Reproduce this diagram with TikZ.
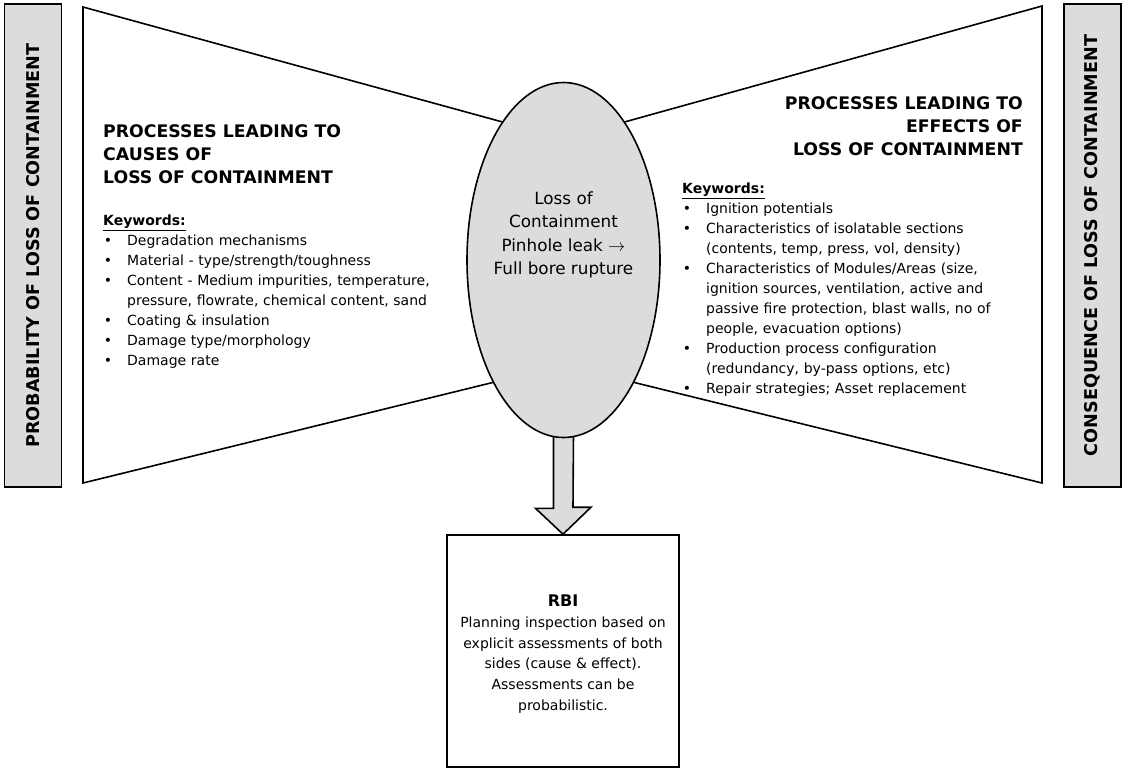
\documentclass[tikz,border=0pt]{standalone}
\usepackage{fontspec}
\setmainfont{DejaVu Sans}
\usepackage{enumitem}
\usetikzlibrary{shapes.geometric, positioning, calc, backgrounds}
\definecolor{shade}{RGB}{220,220,220}
\newenvironment{kwlist}{\begin{itemize}[leftmargin=24pt, labelsep=15pt, topsep=0pt, partopsep=0pt, itemsep=0pt, parsep=0pt]}{\end{itemize}}

\begin{document}
\begin{tikzpicture}[x=1pt, y=-1pt,
    font=\fontsize{14}{20}\selectfont,
    bar/.style={rectangle, draw, line width=1.6pt, fill=shade, minimum width=483pt, minimum height=57pt, inner sep=0pt, font=\fontsize{17.6}{20}\selectfont\bfseries},
    heading/.style={inner sep=0pt, font=\fontsize{17.3}{23}\selectfont\bfseries},
    keys/.style={inner sep=0pt, align=left},
    event/.style={ellipse, draw, line width=1.6pt, fill=shade, minimum width=193pt, minimum height=355pt, inner sep=0pt},
    eventtext/.style={inner sep=0pt, align=center, font=\fontsize{16.8}{23.3}\selectfont},
    result/.style={rectangle, draw, line width=1.6pt, minimum width=232pt, minimum height=232pt, text width=226pt, inner sep=3pt, align=center, font=\fontsize{14}{20.7}\selectfont},
    wing/.style={line width=1.6pt, line join=miter},
    bigarrow/.style={line width=1.6pt, fill=shade, line join=miter}
]
    \useasboundingbox (0,0) rectangle (1124,769);

    % Side bars
    \node[bar, rotate=90] (prob) at (33,245.5) {PROBABILITY OF LOSS OF CONTAINMENT};
    \node[bar, rotate=90] (cons) at (1092.5,245.5) {CONSEQUENCE OF LOSS OF CONTAINMENT};

    % Top event
    \node[event] (loc) at (563.5,260) {};
    \node[eventtext] (loctext) at ([yshift=25pt]loc.center) {Loss of\\Containment\\Pinhole leak $\rightarrow$\\Full bore rupture};

    % Wings
    \coordinate (ltop) at (83,7);
    \coordinate (lbot) at (83,483);
    \coordinate (rtop) at (1042,6);
    \coordinate (rbot) at (1042,483);
    \draw[wing] (loc.114) -- (ltop) -- (lbot) -- (loc.240);
    \draw[wing] (loc.66) -- (rtop) -- (rbot) -- (loc.300);

    % Causes
    \node[heading, anchor=north west, align=left] (causehead) at (103,124) {PROCESSES LEADING TO\\CAUSES OF\\LOSS OF CONTAINMENT};
    \node[keys, anchor=north west, text width=345pt] (causekeys) at (103,215) {\underline{\textbf{Keywords:}}
    \begin{kwlist}
        \item Degradation mechanisms
        \item Material - type/strength/toughness
        \item Content - Medium impurities, temperature, pressure, flowrate, chemical content, sand
        \item Coating \& insulation
        \item Damage type/morphology
        \item Damage rate
    \end{kwlist}};

    % Effects
    \node[heading, anchor=north east, align=right] (effecthead) at (1023,96) {PROCESSES LEADING TO\\EFFECTS OF\\LOSS OF CONTAINMENT};
    \node[keys, anchor=north west, text width=318pt] (effectkeys) at (682,183) {\underline{\textbf{Keywords:}}
    \begin{kwlist}
        \item Ignition potentials
        \item Characteristics of isolatable sections (contents, temp, press, vol, density)
        \item Characteristics of Modules/Areas (size, ignition sources, ventilation, active and passive fire protection, blast walls, no of people, evacuation options)
        \item Production process configuration (redundancy, by-pass options, etc)
        \item Repair strategies; Asset replacement
    \end{kwlist}};

    % RBI
    \node[result] (rbi) at (563,651) {};
    \node[inner sep=0pt, align=center, font=\fontsize{14}{20.7}\selectfont] (rbitext) at ([yshift=-3pt]rbi.center) {{\fontsize{16}{20.7}\selectfont\textbf{RBI}}\\Planning inspection based on\\explicit assessments of both\\sides (cause \& effect).\\Assessments can be\\probabilistic.};

    % Arrow
    \begin{scope}[on background layer]
        \draw[bigarrow] ([xshift=-10pt, yshift=6pt]loc.south) -- ++(0,76) -- ++(-18,0) -- (rbi.north) -- ++(28,-27) -- ++(-18,0) -- ([xshift=10pt, yshift=6pt]loc.south);
    \end{scope}
\end{tikzpicture}
\end{document}
